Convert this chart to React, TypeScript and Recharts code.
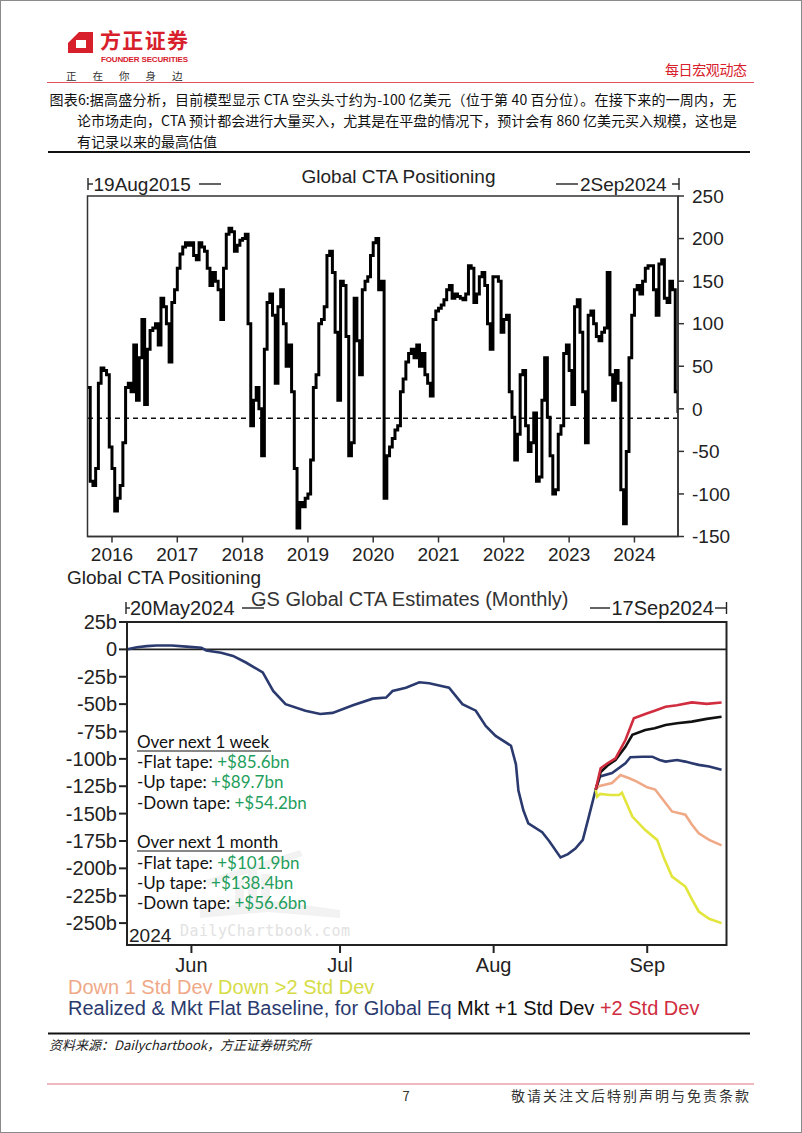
import React from "react"
import { LineChart, Line, XAxis, YAxis, ReferenceLine } from "recharts"

const ARIAL = "'Liberation Sans', Arial, sans-serif"
const CJK = "'Noto Sans CJK SC', 'Noto Sans', sans-serif"
const CALIBRI = "Lato, 'Open Sans', sans-serif"

// Global CTA Positioning ($bn), read twice a month starting 19 Aug 2015
const ctaStart = 2015.625
const cta2015 = [25, -85, -90, -70, 30, 48, 45, 40, -45]
const cta2016 = [-70, -120, -105, -90, -40, 25, 30, 20, 75, 10, 60, 105, 5, 70, 92, 95, 100, 75, 130, 120, 100, 55, 125, 140]
const cta2017 = [165, 182, 190, 195, 192, 195, 180, 175, 195, 190, 185, 165, 145, 160, 150, 140, 105, 165, 205, 212, 208, 185, 192, 198]
const cta2018 = [200, 205, 100, -20, 10, 25, 0, -55, 70, 125, 135, 110, 30, 120, 140, 100, 50, 75, 20, -70, -140, -110, -115, -105]
const cta2019 = [-100, -60, 25, 40, 100, 105, 120, 180, 185, 160, 90, 10, 150, 145, 85, -55, -40, 130, 80, 40, 140, 150, 155, 180]
const cta2020 = [195, 200, 140, 150, -105, -55, -45, -35, -25, -20, 20, 35, 55, 65, 70, 60, 75, 50, 65, 40, 30, 15, 105, 115]
const cta2021 = [118, 122, 128, 140, 145, 130, 135, 132, 130, 128, 135, 168, 165, 125, 135, 155, 160, 145, 100, 70, 155, 155, 150, 90]
const cta2022 = [105, 110, 20, -10, -60, -30, 40, 45, -20, -50, -40, -5, -85, -80, 10, 60, -10, -55, -100, -95, -30, -20, 65, 75]
const cta2023 = [45, 5, 120, 128, 90, 20, -40, 110, 115, 100, 85, 80, 90, 95, 160, 40, 10, 45, 30, -95, -135, -50, 60, 110]
const cta2024 = [140, 145, 135, 150, 165, 168, 168, 140, 110, 170, 175, 130, 125, 150, 140, 20, -5]
const ctaYears = [2016, 2017, 2018, 2019, 2020, 2021, 2022, 2023, 2024]
const ctaLevels = [-150, -100, -50, 0, 50, 100, 150, 200, 250]
const ctaNow = -11

// GS Global CTA Estimates, x = days after 20 May 2024, y = $bn
const realizedDays = [-1, 1, 3, 5, 8, 11, 14, 15, 18, 20.4, 23, 26.4, 28.5, 31, 35, 38, 40.5, 44.6, 48.6, 51.3, 52.6, 55.3, 58, 60, 62, 64, 66.7, 69.4, 71.4, 73.4, 76.5, 77.5, 78, 79, 80, 82.8, 84.2, 86.5, 88, 89.5, 91, 92.2, 93.6]
const realizedVals = [0, 2, 3, 3.5, 3.5, 2.5, 1.5, -1, -3, -6, -12, -21, -38, -50, -56, -59, -58, -51, -45, -44, -38, -35, -30, -31, -33, -35, -50, -56, -70, -79, -88, -105, -129, -147, -159, -167, -175, -190, -187, -182, -174, -153, -128]
const flatDays = [93.6, 94.5, 96.9, 99.6, 100.6, 103, 105, 106.5, 107.7, 110, 111.7, 113, 114.4, 116.5, 119]
const flatVals = [-128, -116, -113, -104, -98.5, -98, -98, -101, -102.5, -101, -102.5, -104, -105.5, -107, -110]
const up2Days = [93.6, 94.6, 96, 97.6, 99.6, 101.3, 103.6, 105.5, 107.7, 110, 113, 116, 119]
const up2Vals = [-128, -108.6, -104, -99.5, -82.8, -63, -59, -56, -52.4, -51, -48.4, -49.8, -48.5]
const up1Days = [93.6, 94.6, 96, 97.6, 99.6, 101, 103.6, 105.5, 107.7, 110, 113, 116, 119]
const up1Vals = [-128, -112, -106, -101, -89, -78, -73.6, -72, -69, -67.5, -66, -63.5, -61.5]
const down1Days = [93.6, 94.2, 96.9, 98.6, 100.5, 101.9, 104, 105.6, 107.3, 109, 111.7, 113, 114.4, 116.5, 119]
const down1Vals = [-128, -125, -122, -114.7, -118, -120.8, -126, -128, -138, -148, -151, -160, -168, -174, -179]
const down2Days = [93.6, 93.9, 94.5, 96.5, 98.3, 98.9, 101, 103.6, 106, 107.5, 109, 111.7, 113, 114.4, 116.5, 119]
const down2Vals = [-128, -134.5, -132, -133, -133, -131, -152.7, -165, -174, -192, -207.5, -216.6, -228, -239.4, -246, -250]
const monthTicks = [12, 42, 73, 104]
const monthNames = ["Jun", "Jul", "Aug", "Sep"]
const estLevels = [25, 0, -25, -50, -75, -100, -125, -150, -175, -200, -225, -250]

const ctaData = [cta2015, cta2016, cta2017, cta2018, cta2019, cta2020, cta2021, cta2022, cta2023, cta2024]
  .flat()
  .map((v, i) => ({ t: ctaStart + i / 24, v }))

const pairs = (days: number[], vals: number[]) => days.map((d, i) => ({ d, v: vals[i] }))

const NAVY = "#2b3a6e"
const RED = "#d02d3f"
const SALMON = "#f0a987"
const YELLOW = "#e2e53c"
const GREEN = "#1f9e5c"

function PositioningChart() {
  const tickStyle = { fill: "#222", fontSize: 19, fontFamily: ARIAL }
  return (
    <LineChart width={802} height={420} data={ctaData} margin={{ top: 46, right: 64, bottom: 3.5, left: 87.5 }}>
      <XAxis
        dataKey="t"
        type="number"
        domain={[ctaStart, 2024.667]}
        allowDataOverflow
        ticks={ctaYears}
        interval={0}
        height={30}
        tick={tickStyle}
        tickSize={6}
        tickMargin={5}
        stroke="#333"
        strokeWidth={1.5}
      />
      <YAxis
        orientation="right"
        type="number"
        domain={[-150, 250]}
        ticks={ctaLevels}
        interval={0}
        width={60}
        tick={tickStyle}
        tickSize={6}
        tickMargin={8}
        stroke="#333"
        strokeWidth={1.5}
      />
      <ReferenceLine y={ctaNow} stroke="#111" strokeDasharray="5 4" strokeWidth={1.6} />
      <Line dataKey="v" type="stepAfter" stroke="#000" strokeWidth={3} dot={false} isAnimationActive={false} />
    </LineChart>
  )
}

function EstimatesChart() {
  const tickStyle = { fill: "#222", fontSize: 20, fontFamily: ARIAL }
  const series = [
    { key: "realized", data: pairs(realizedDays, realizedVals), color: NAVY },
    { key: "flat", data: pairs(flatDays, flatVals), color: NAVY },
    { key: "down2", data: pairs(down2Days, down2Vals), color: YELLOW },
    { key: "down1", data: pairs(down1Days, down1Vals), color: SALMON },
    { key: "up1", data: pairs(up1Days, up1Vals), color: "#111" },
    { key: "up2", data: pairs(up2Days, up2Vals), color: RED },
  ]
  return (
    <LineChart width={802} height={390} margin={{ top: 32, right: 75.5, bottom: 0, left: 0 }}>
      <XAxis
        dataKey="d"
        type="number"
        domain={[-1, 120]}
        allowDataOverflow
        ticks={monthTicks}
        interval={0}
        tickFormatter={(d) => monthNames[monthTicks.indexOf(d)]}
        height={35}
        tick={tickStyle}
        tickSize={8}
        tickMargin={5}
        stroke="#222"
        strokeWidth={2}
      />
      <YAxis
        type="number"
        domain={[-270, 25]}
        allowDataOverflow
        ticks={estLevels}
        interval={0}
        tickFormatter={(v) => (v === 0 ? "0" : `${v}b`)}
        width={127}
        tick={tickStyle}
        tickSize={8}
        tickMargin={2}
        stroke="#222"
        strokeWidth={2}
      />
      <ReferenceLine y={0} stroke="#222" strokeWidth={1.6} />
      {series.map((s) => (
        <Line
          key={s.key}
          data={s.data}
          dataKey="v"
          type="linear"
          stroke={s.color}
          strokeWidth={2.6}
          dot={false}
          isAnimationActive={false}
        />
      ))}
    </LineChart>
  )
}

// ⊢label— and —label⊣ range markers above each chart
function RangeMark({ x1, x2, y, side }: { x1: number; x2: number; y: number; side: "l" | "r" }) {
  const x = side === "l" ? x1 : x2
  return (
    <g stroke="#222" strokeWidth={1.4}>
      <line x1={x} x2={x} y1={y - 6} y2={y + 6} />
      <line x1={x1} x2={x2} y1={y} y2={y} />
    </g>
  )
}

const captionLines = [
  "图表6:据高盛分析，目前模型显示 CTA 空头头寸约为-100 亿美元（位于第 40 百分位）。在接下来的一周内，无",
  "论市场走向，CTA 预计都会进行大量买入，尤其是在平盘的情况下，预计会有 860 亿美元买入规模，这也是",
  "有记录以来的最高估值",
]

const weekNotes = [
  ["-Flat tape: ", "+$85.6bn"],
  ["-Up tape: ", "+$89.7bn"],
  ["-Down tape: ", "+$54.2bn"],
]
const monthNotes = [
  ["-Flat tape: ", "+$101.9bn"],
  ["-Up tape: ", "+$138.4bn"],
  ["-Down tape: ", "+$56.6bn"],
]

export default function App() {
  return (
    <div style={{ position: "absolute", left: 0, top: 0, width: 802, height: 1133, background: "#fff", overflow: "hidden" }}>
      <div style={{ position: "absolute", left: 0, top: 150 }}>
        <PositioningChart />
      </div>
      <div style={{ position: "absolute", left: 0, top: 590 }}>
        <EstimatesChart />
      </div>

      {captionLines.map((line, i) => (
        <div
          key={i}
          style={{
            position: "absolute",
            left: i === 0 ? 49.5 : 77,
            top: 89 + i * 21.2,
            width: i === 0 ? 687 : 660,
            fontFamily: CJK,
            fontSize: 14,
            lineHeight: "21px",
            color: "#111",
            whiteSpace: "nowrap",
            textAlign: i < 2 ? "justify" : "left",
            textAlignLast: i < 2 ? "justify" : "left",
          }}
        >
          {line}
        </div>
      ))}

      <svg width={802} height={1133} style={{ position: "absolute", left: 0, top: 0, pointerEvents: "none" }}>
        <rect x={0.5} y={0.5} width={801} height={1132} fill="none" stroke="#8a8a8a" />

        {/* header */}
        <path d="M68,43 L79,32 L93,32 L93,53 L68,53 Z" fill="#d7202c" />
        <path d="M76,40 L86,40 L86,48 L76,48 Z" fill="#fff" />
        <text x={100} y={48} fontFamily={CJK} fontWeight={700} fontSize={21} fill="#d7202c" textLength={88}>
          方正证券
        </text>
        <text x={101} y={62} fontFamily={ARIAL} fontWeight={700} fontSize={8} fill="#d7202c" textLength={87}>
          FOUNDER SECURITIES
        </text>
        {["正", "在", "你", "身", "边"].map((c, i) => (
          <text key={c} x={66 + i * 26.5} y={80} fontFamily={CJK} fontSize={10.5} fill="#333">
            {c}
          </text>
        ))}
        <text x={665} y={75} fontFamily={CJK} fontSize={14} fill="#d7202c" textLength={82}>
          每日宏观动态
        </text>
        <line x1={47} x2={754} y1={82.5} y2={82.5} stroke="#e0505e" strokeWidth={1} />
        <line x1={48} x2={750} y1={152} y2={152} stroke="#111" strokeWidth={2} />

        {/* plot frames */}
        <rect x={87.5} y={196} width={590.5} height={340.5} fill="none" stroke="#333" strokeWidth={1.5} />
        <rect x={127} y={622} width={599.5} height={323} fill="none" stroke="#222" strokeWidth={2} />

        {/* chart 1 titles */}
        <text x={398.5} y={183} textAnchor="middle" fontFamily={ARIAL} fontSize={19} fill="#222">
          Global CTA Positioning
        </text>
        <RangeMark x1={88} x2={93} y={184} side="l" />
        <text x={93.5} y={191} fontFamily={ARIAL} fontSize={19} fill="#222">
          19Aug2015
        </text>
        <line x1={199} x2={221} y1={184} y2={184} stroke="#222" strokeWidth={1.4} />
        <line x1={556} x2={578} y1={184} y2={184} stroke="#222" strokeWidth={1.4} />
        <text x={580} y={191} fontFamily={ARIAL} fontSize={19} fill="#222">
          2Sep2024
        </text>
        <RangeMark x1={672} x2={679} y={184} side="r" />
        <text x={67} y={584} fontFamily={ARIAL} fontSize={19} fill="#222">
          Global CTA Positioning
        </text>

        {/* chart 2 titles */}
        <RangeMark x1={126} x2={130} y={608} side="l" />
        <text x={130} y={615} fontFamily={ARIAL} fontSize={20} fill="#222">
          20May2024
        </text>
        <line x1={242} x2={264} y1={608} y2={608} stroke="#222" strokeWidth={1.4} />
        <text x={251} y={606} fontFamily={ARIAL} fontSize={20} fill="#333">
          GS Global CTA Estimates (Monthly)
        </text>
        <line x1={590} x2={610} y1={608} y2={608} stroke="#222" strokeWidth={1.4} />
        <text x={611.5} y={615} fontFamily={ARIAL} fontSize={20} fill="#222">
          17Sep2024
        </text>
        <RangeMark x1={715} x2={726.5} y={608} side="r" />

        {/* watermark */}
        <g fill="#f2f2f2">
          <rect x={235} y={880} width={9} height={30} />
          <rect x={248} y={868} width={9} height={42} />
          <rect x={261} y={874} width={9} height={36} />
          <path d="M200,910 L268,900 L340,910 L340,918 L268,912 L200,918 Z" />
          <path d="M205,880 L300,850 L303,856 L208,886 Z" />
        </g>
        <text x={180} y={936} fontFamily="'DejaVu Sans Mono', monospace" fontSize={15} fill="#e2e2e2" textLength={170}>
          DailyChartbook.com
        </text>
        <text x={129} y={942} fontFamily={ARIAL} fontSize={19} fill="#222">
          2024
        </text>

        {/* annotations */}
        <text x={137} y={748} fontFamily={CALIBRI} fontSize={17} fill="#111">
          Over next 1 week
        </text>
        <line x1={137} x2={271} y1={751} y2={751} stroke="#111" strokeWidth={1} />
        {weekNotes.map(([a, b], i) => (
          <text key={a} x={137} y={768 + i * 20.3} fontFamily={CALIBRI} fontSize={17} fill="#111">
            {a}
            <tspan fill={GREEN}>{b}</tspan>
          </text>
        ))}
        <text x={137} y={848} fontFamily={CALIBRI} fontSize={17} fill="#111">
          Over next 1 month
        </text>
        <line x1={137} x2={282} y1={851} y2={851} stroke="#111" strokeWidth={1} />
        {monthNotes.map(([a, b], i) => (
          <text key={a} x={137} y={869 + i * 20} fontFamily={CALIBRI} fontSize={17} fill="#111">
            {a}
            <tspan fill={GREEN}>{b}</tspan>
          </text>
        ))}

        {/* legend */}
        <text x={68} y={994} fontFamily={ARIAL} fontSize={20}>
          <tspan fill={SALMON}>Down 1 Std Dev </tspan>
          <tspan fill="#d6dc46">Down &gt;2 Std Dev</tspan>
        </text>
        <text x={68} y={1015} fontFamily={ARIAL} fontSize={20}>
          <tspan fill={NAVY}>Realized &amp; Mkt Flat Baseline, for Global Eq </tspan>
          <tspan fill="#111">Mkt +1 Std Dev </tspan>
          <tspan fill={RED}>+2 Std Dev</tspan>
        </text>

        {/* footer */}
        <line x1={48} x2={750} y1={1033.5} y2={1033.5} stroke="#111" strokeWidth={2} />
        <text x={49} y={1050} fontFamily={CJK} fontStyle="italic" fontSize={13} fill="#222">
          资料来源：Dailychartbook，方正证券研究所
        </text>
        <line x1={47} x2={754} y1={1084} y2={1084} stroke="#e0707e" strokeWidth={1} />
        <text x={406} y={1101} textAnchor="middle" fontFamily={CJK} fontSize={13} fill="#333">
          7
        </text>
        <text x={511} y={1101} fontFamily={CJK} fontSize={14} fill="#333" textLength={238}>
          敬请关注文后特别声明与免责条款
        </text>
      </svg>
    </div>
  )
}
